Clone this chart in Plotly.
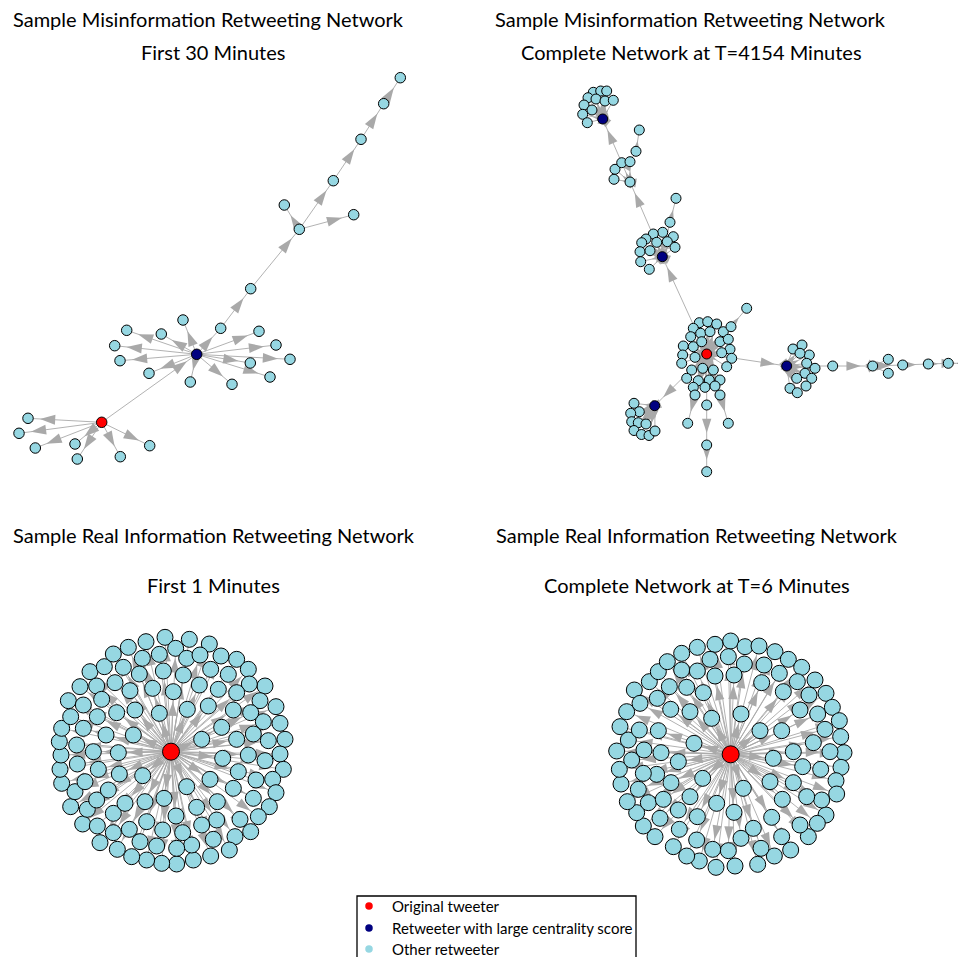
import math
import plotly.graph_objects as go

# ---------------- colours ----------------
COL_ORIG = "#FF0000"
COL_CENT = "#000080"
COL_OTHER = "#96D7E2"
COL_EDGE = "#A9A9A9"
ROLE_COLOR = {0: COL_ORIG, 1: COL_CENT, 2: COL_OTHER}

# ---------------- panel 1: misinformation, first 30 minutes (layout units = px) ----------------
P1_X = [101.7, 196.7, 220.7, 250.7, 299.3, 284.3, 353.7, 333.3, 361.0, 383.7, 400.3,
        183.0, 161.3, 126.7, 114.7, 120.0, 149.0, 190.3, 232.0, 270.0, 250.3, 290.0, 276.0, 259.0,
        28.0, 19.0, 35.3, 75.0, 77.3, 120.3, 149.7]
P1_Y = [422.3, 354.3, 328.3, 288.7, 229.3, 205.0, 214.7, 180.7, 139.3, 103.7, 77.7,
        320.0, 334.0, 330.3, 345.7, 360.7, 373.3, 382.0, 384.3, 377.0, 363.0, 359.3, 345.0, 331.3,
        418.3, 433.3, 448.0, 444.0, 459.0, 456.7, 445.7]
P1_ROLE = [0, 1] + [2] * 29
P1_PARENT = [-1, 0, 1, 2, 3, 4, 4, 4, 7, 8, 9] + [1] * 13 + [0] * 7

# ---------------- panel 2: misinformation, complete network (layout units = px) ----------------
P2_X = [706.7, 662.3, 602.7, 654.7, 786.7,                                   # 0-4 hubs
        676.0, 670.0, 662.7, 653.3, 673.3, 646.0, 656.7, 667.3, 675.0, 641.7,  # 5-14
        640.0, 650.0, 640.7, 649.3,                                          # 15-18
        630.0, 615.0, 614.0, 621.7, 630.0, 636.0, 639.3,                     # 19-25
        593.3, 600.7, 606.7, 588.0, 596.0, 605.0, 613.3, 584.0, 592.0, 582.7, 587.3,  # 26-36
        699.3, 707.7, 716.7, 723.3, 693.3, 700.7, 710.0, 690.7, 720.0, 728.3,  # 37-46
        683.3, 693.3, 701.7, 730.0, 682.7, 695.0, 721.7, 731.7, 681.7, 726.7,  # 47-56
        691.7, 702.7, 713.3, 686.7, 698.3, 709.3, 720.0, 693.3, 705.0, 715.0,  # 57-66
        731.0, 746.7, 695.0, 687.7, 706.7, 706.7, 706.7, 720.0, 728.3,        # 67-75
        634.0, 639.3, 630.7, 631.7, 638.3, 646.0, 634.0, 641.5, 649.0, 655.0,  # 76-85
        793.0, 802.0, 809.3, 806.7, 815.0, 805.0, 811.7, 796.7, 790.0, 797.3, 806.0, 800.0,  # 86-97
        832.7, 872.7, 888.3, 888.3, 902.7, 928.3, 948.3, 963.3]               # 98-105
P2_Y = [354.0, 256.7, 119.0, 405.7, 366.0,
        198.3, 222.3, 232.3, 234.0, 236.7, 239.0, 242.3, 241.7, 247.3, 242.7,
        251.7, 250.7, 261.7, 269.3,
        182.0, 169.3, 179.3, 162.7, 161.7, 151.3, 130.0,
        92.3, 91.0, 91.0, 97.7, 99.0, 101.0, 100.3, 105.0, 110.0, 114.3, 122.7,
        322.7, 321.7, 324.0, 331.7, 328.3, 333.3, 331.7, 336.7, 341.7, 339.3,
        346.0, 346.7, 341.7, 349.3, 355.0, 357.3, 352.7, 358.3, 363.3, 366.7,
        370.0, 368.3, 370.0, 378.3, 380.7, 380.0, 380.0, 387.3, 387.3, 386.0,
        326.7, 308.3, 395.0, 423.3, 405.0, 445.0, 471.7, 395.0, 423.3,
        403.3, 411.7, 413.3, 421.7, 422.7, 424.0, 430.5, 434.5, 435.5, 431.0,
        349.0, 345.0, 355.0, 363.3, 368.3, 373.3, 378.3, 378.3, 388.3, 392.7, 386.0, 353.3,
        366.0, 366.0, 359.3, 373.3, 365.0, 364.0, 363.3, 363.3]
P2_ROLE = [0, 1, 1, 1, 1] + [2] * 101
P2_PARENT = ([-1, 0, 22, 0, 0]
             + [6] + [1] * 13
             + [1, 19, 19, 19, 19, 23, 24]
             + [2] * 11
             + [0] * 30
             + [0, 67, 0, 69, 0, 71, 72, 0, 74]
             + [3] * 10
             + [4] * 12
             + [4, 98, 99, 99, 99, 102, 103, 104])

# ---------------- panel 3: real information, first 1 minute (layout units = 3 per px) ----------------
P3_X = [513,
        495, 568, 628, 663, 710, 745, 795, 828, 840, 855, 840, 850, 818, 828, 808, 775, 752, 705, 688, 632, 580,
        530, 485, 440, 395, 352, 300, 248, 212, 185, 180, 183, 178, 185, 212, 205, 240, 270, 313, 340, 385, 438,
        527, 560, 600, 632, 685, 748, 710, 780, 790, 805, 795, 768, 760, 720, 650, 640, 575, 530, 470, 420, 388,
        340, 292, 262, 225, 232, 230, 250, 250, 290, 370, 427, 478,
        490, 550, 598, 655, 700, 752, 760, 745, 715, 700, 652, 605, 548, 488, 440, 340, 290, 255, 295, 280, 318,
        292, 305, 345, 390, 418, 458, 520,
        350, 405, 478, 562, 625, 665, 710, 668, 630, 560, 590, 528, 492, 435, 375, 325, 358, 428, 355, 400, 605]
P3_Y = [425,
        82, 88, 102, 138, 148, 178, 228, 290, 340, 388, 432, 478, 508, 548, 590, 620, 665, 680, 720, 738, 750,
        762, 760, 750, 740, 718, 698, 642, 590, 520, 478, 435, 395, 355, 320, 272, 230, 185, 170, 132, 112, 95,
        115, 145, 135, 178, 193, 222, 248, 272, 335, 392, 452, 510, 565, 628, 630, 688, 705, 715, 708, 695, 658,
        668, 648, 598, 545, 462, 405, 355, 285, 228, 172, 145, 133,
        183, 195, 225, 238, 300, 308, 372, 435, 485, 535, 575, 645, 668, 660, 635, 610, 570, 515, 478, 425, 375,
        320, 268, 218, 242, 192, 235, 245,
        308, 300, 310, 298, 288, 352, 388, 445, 508, 530, 592, 618, 565, 575, 580, 540, 492, 497, 428, 375, 388]

# ---------------- panel 4: real information, complete network (layout units = 3 per px) ----------------
P4_X = [452,
        452, 495, 537, 585, 625, 665, 705, 738, 757, 778, 782, 792, 783, 768, 770, 738, 712, 685, 632, 583, 533,
        465, 408, 358, 320, 280, 225, 190, 170, 142, 123, 118, 110, 120, 140, 163, 208, 235, 262, 305, 352, 405,
        445, 493, 552, 598, 652, 687, 713, 735, 750, 722, 725, 660, 605, 543, 483, 445, 398, 350, 298, 240, 205,
        175, 155, 145, 178, 180, 232, 268, 305, 352, 390,
        405, 462, 545, 610, 660, 700, 668, 640, 680, 607, 575, 520, 462, 410, 352, 295, 250, 230, 190, 192, 243,
        235, 272, 320, 370,
        330, 395, 483, 540, 605, 640, 580, 570, 490, 368, 295, 342, 273, 330]
P4_Y = [433,
        93, 110, 108, 125, 148, 172, 210, 250, 292, 332, 380, 428, 472, 512, 552, 615, 640, 680, 720, 738, 763,
        768, 772, 753, 738, 710, 680, 648, 608, 575, 522, 478, 423, 350, 305, 240, 215, 185, 155, 130, 112, 103,
        140, 162, 165, 190, 215, 255, 312, 358, 425, 478, 570, 645, 680, 715, 685, 722, 718, 690, 658, 625, 578,
        538, 450, 390, 360, 280, 265, 230, 180, 183, 148,
        198, 195, 218, 245, 300, 398, 470, 518, 560, 568, 622, 655, 607, 580, 620, 600, 568, 493, 490, 420, 428,
        362, 298, 232, 248,
        305, 325, 312, 362, 362, 425, 445, 515, 535, 505, 455, 400, 518, 560]

# ---------------- text ----------------
TITLES = [
    ("Sample Misinformation Retweeting Network", 208.5, 19),
    ("First 30 Minutes", 213, 52),
    ("Sample Misinformation Retweeting Network", 690.5, 19),
    ("Complete Network at T=4154 Minutes", 691.5, 52),
    ("Sample Real Information Retweeting Network", 214, 535),
    ("First 1 Minutes", 213, 585),
    ("Sample Real Information Retweeting Network", 696.5, 535),
    ("Complete Network at T=6 Minutes", 697, 585),
]
LEGEND_LABELS = ["Original tweeter", "Retweeter with large centrality score", "Other retweeter"]
LEGEND_COLORS = [COL_ORIG, COL_CENT, COL_OTHER]

FONT = "Lato"

# The page body has an 8 px margin, so the figure is 8 px smaller than the window
# and the main axis maps window pixels 8..966 / 8..957.
PAGE_W, PAGE_H, BODY_M = 966, 957, 8
W, H = PAGE_W - BODY_M, PAGE_H - BODY_M

fig = go.Figure()


def add_network(xs, ys, roles, parents, xa, ya, upp, node_px, hub_px, tip_px, arrow_px):
    ex, ey, axs, ays, angs = [], [], [], [], []
    for i, p in enumerate(parents):
        if p < 0:
            continue
        x0, y0, x1, y1 = xs[p], ys[p], xs[i], ys[i]
        ex += [x0, x1, None]
        ey += [y0, y1, None]
        dx, dy = x1 - x0, y1 - y0
        d = math.hypot(dx, dy)
        if d == 0:
            continue
        t = min(tip_px * upp, 0.5 * d)
        axs.append(x1 - dx / d * t)
        ays.append(y1 - dy / d * t)
        angs.append(math.degrees(math.atan2(dx, -dy)))
    fig.add_trace(go.Scatter(x=ex, y=ey, mode="lines", xaxis=xa, yaxis=ya,
                             line=dict(color=COL_EDGE, width=0.9),
                             hoverinfo="skip", showlegend=False))
    fig.add_trace(go.Scatter(x=axs, y=ays, mode="markers", xaxis=xa, yaxis=ya,
                             marker=dict(symbol="arrow", size=arrow_px, angle=angs,
                                         color=COL_EDGE, line=dict(width=0)),
                             hoverinfo="skip", showlegend=False, cliponaxis=False))
    for role in (2, 1, 0):
        idx = [i for i, r in enumerate(roles) if r == role]
        if not idx:
            continue
        fig.add_trace(go.Scatter(
            x=[xs[i] for i in idx], y=[ys[i] for i in idx], mode="markers",
            xaxis=xa, yaxis=ya, cliponaxis=False,
            marker=dict(size=node_px if role == 2 else hub_px, color=ROLE_COLOR[role],
                        line=dict(color="black", width=1)),
            hoverinfo="skip", showlegend=False))


add_network(P1_X, P1_Y, P1_ROLE, P1_PARENT, "x", "y", 1, 10.5, 10.5, 12, 16)
add_network(P2_X, P2_Y, P2_ROLE, P2_PARENT, "x", "y", 1, 10, 10, 12, 15)
add_network(P3_X, P3_Y, [0] + [2] * (len(P3_X) - 1), [-1] + [0] * (len(P3_X) - 1),
            "x2", "y2", 3, 16, 17, 10, 15)
add_network(P4_X, P4_Y, [0] + [2] * (len(P4_X) - 1), [-1] + [0] * (len(P4_X) - 1),
            "x3", "y3", 3, 16, 17, 10, 15)

# legend (drawn manually; box runs off the bottom edge as in the reference)
LEG_Y = [906, 928, 949]
fig.add_trace(go.Scatter(x=[369] * 3, y=LEG_Y, mode="markers", xaxis="x", yaxis="y",
                         marker=dict(size=7.5, color=LEGEND_COLORS, line=dict(width=0)),
                         hoverinfo="skip", showlegend=False, cliponaxis=False))

annotations = []
for text, x, y in TITLES:
    annotations.append(dict(text=text, x=x, y=y, xref="x", yref="y", showarrow=False,
                            xanchor="center", yanchor="middle",
                            font=dict(family=FONT, size=20, color="black")))
for text, y in zip(LEGEND_LABELS, LEG_Y):
    annotations.append(dict(text=text, x=390, y=y, xref="x", yref="y", showarrow=False,
                            xanchor="left", yanchor="middle",
                            font=dict(family=FONT, size=15, color="black")))


def dom_x(a, b):
    return [(a - BODY_M) / W, (b - BODY_M) / W]


def dom_y(top, bottom):
    return [1 - (bottom - BODY_M) / H, 1 - (top - BODY_M) / H]


fig.update_layout(
    width=W, height=H, margin=dict(l=0, r=0, t=0, b=0),
    paper_bgcolor="white", plot_bgcolor="rgba(0,0,0,0)",
    showlegend=False,
    xaxis=dict(domain=[0, 1], range=[BODY_M, PAGE_W], visible=False, fixedrange=True),
    yaxis=dict(domain=[0, 1], range=[PAGE_H, BODY_M], visible=False, fixedrange=True),
    # panel 3 occupies window x 30..330, y 610..890 ; layout units = 3 per px, origin (0, 610)
    xaxis2=dict(domain=dom_x(30, 330), range=[90, 990], visible=False, anchor="y2"),
    yaxis2=dict(domain=dom_y(610, 890), range=[840, 0], visible=False, anchor="x2"),
    # panel 4 occupies window x 580..880, y 610..890 ; origin (580, 610)
    xaxis3=dict(domain=dom_x(580, 880), range=[0, 900], visible=False, anchor="y3"),
    yaxis3=dict(domain=dom_y(610, 890), range=[840, 0], visible=False, anchor="x3"),
    annotations=annotations,
    shapes=[dict(type="rect", xref="x", yref="y", x0=357, x1=636, y0=896, y1=975,
                 line=dict(color="black", width=1.3), fillcolor="rgba(0,0,0,0)")],
)

fig.write_html("out.html")
